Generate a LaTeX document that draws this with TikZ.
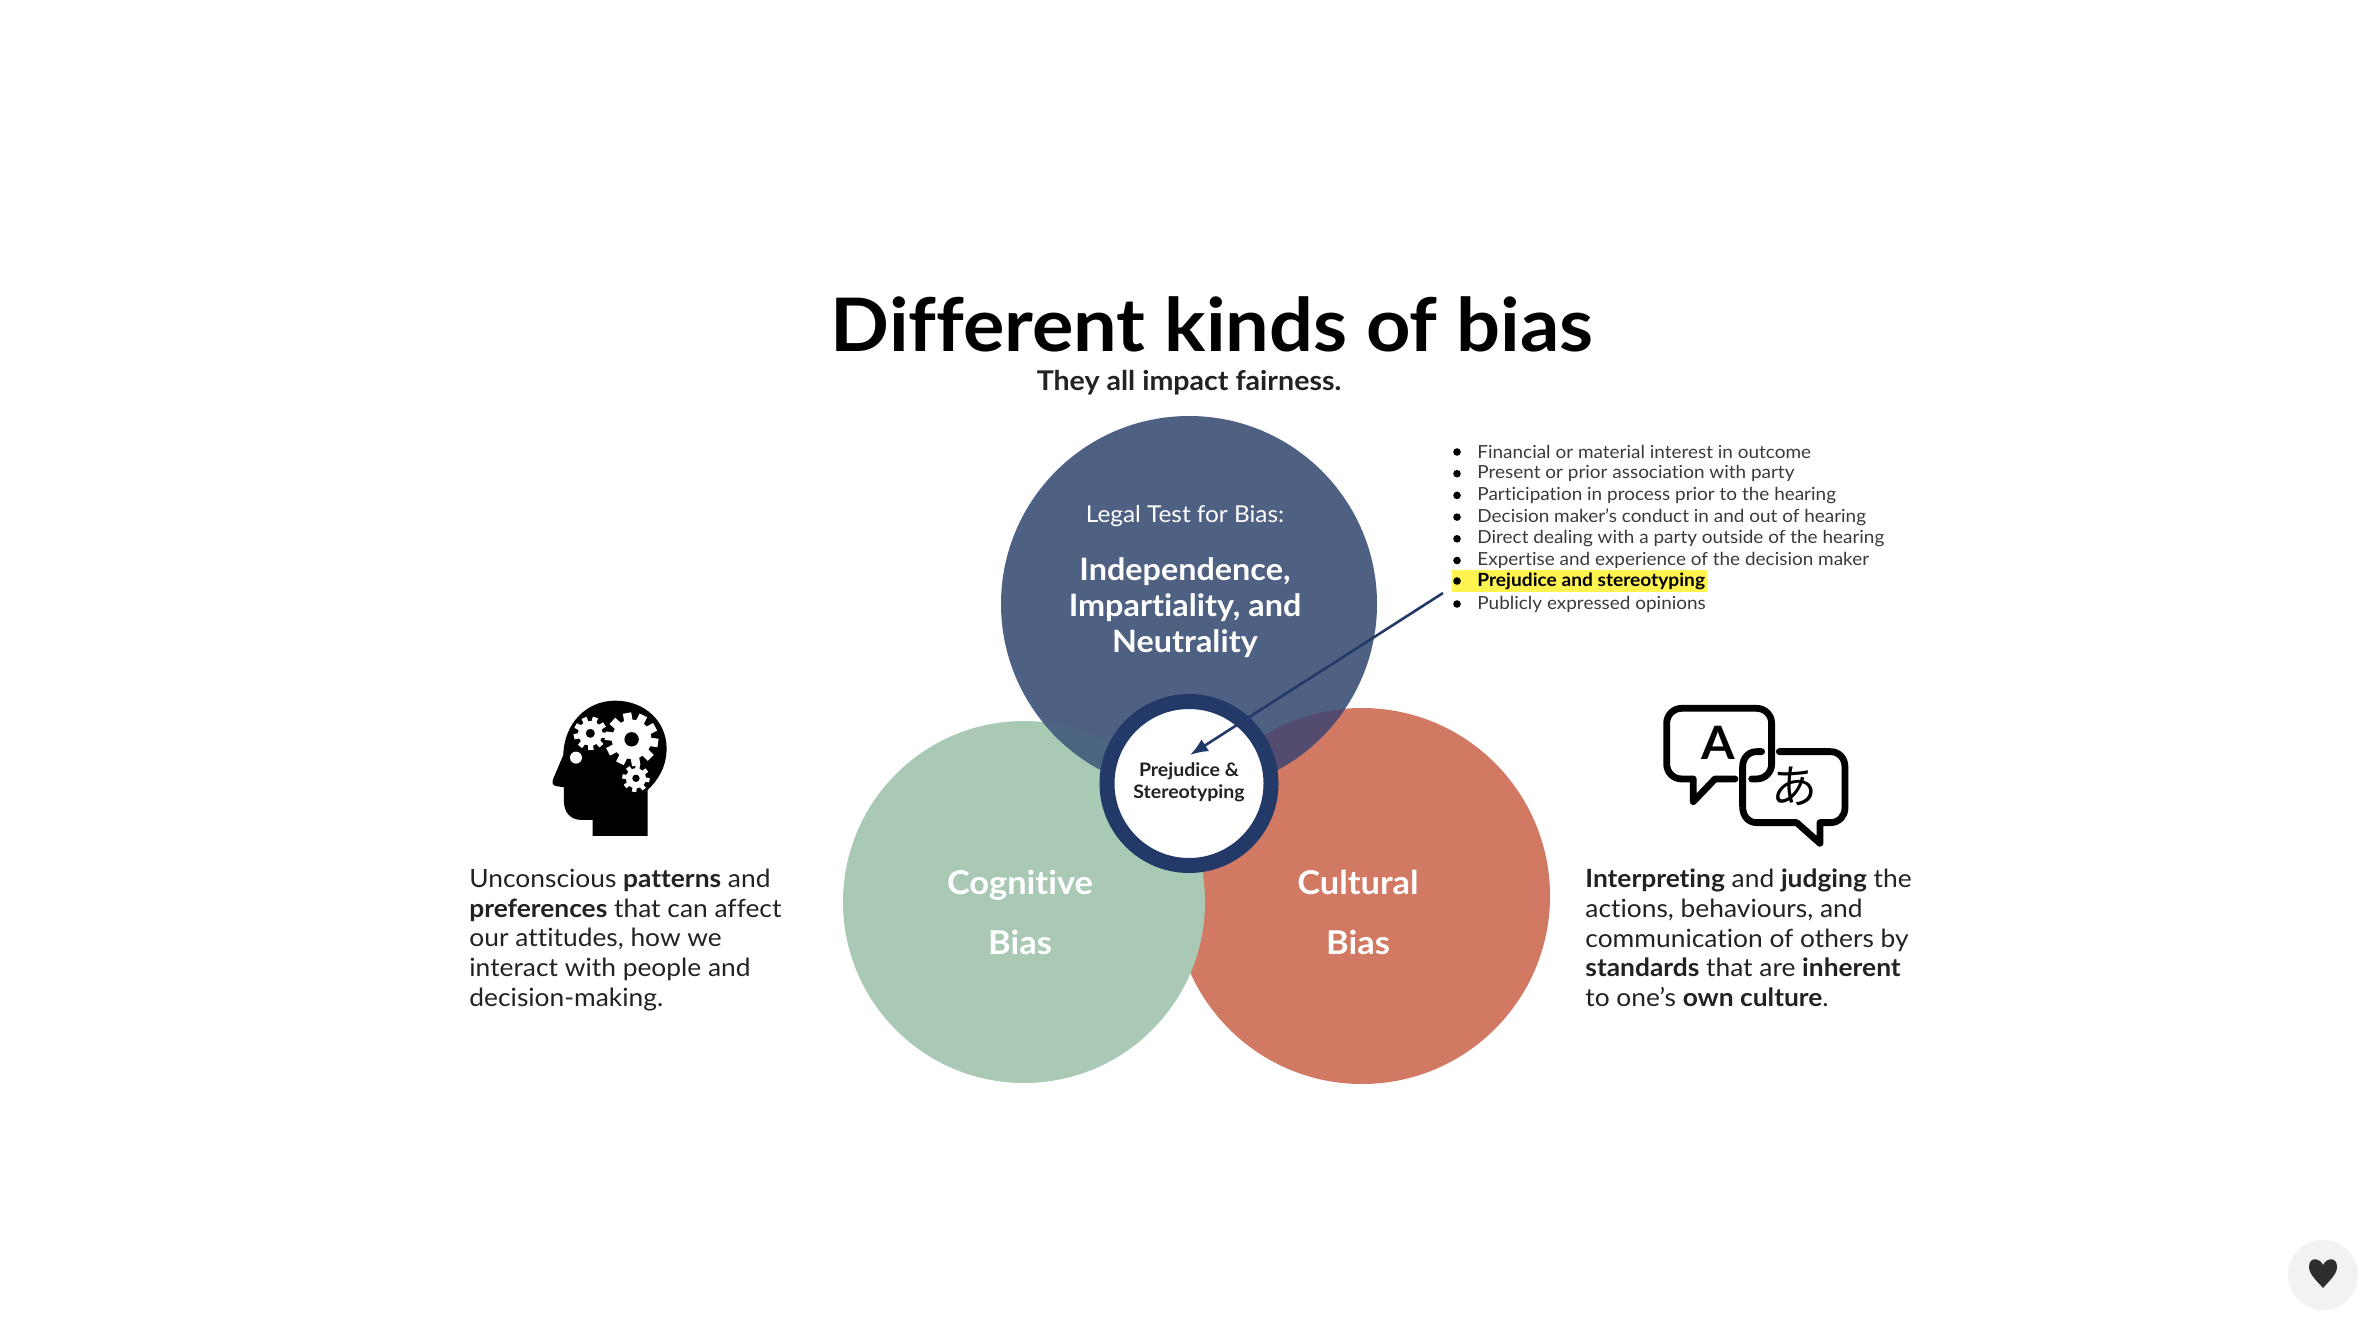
\documentclass[tikz,border=0pt]{standalone}
\usepackage{fontspec}
\setmainfont{Lato}[FakeStretch=1.05,Ligatures={NoCommon}]
\newfontfamily\cjkfont{Noto Sans CJK JP}
\definecolor{bluec}{HTML}{4F6183}
\definecolor{redc}{HTML}{D17963}
\definecolor{greenc}{HTML}{A9C9B5}
\definecolor{ringc}{HTML}{233A68}
\definecolor{overr}{HTML}{544C6E}
\definecolor{overg}{HTML}{4C6682}
\definecolor{hilite}{HTML}{FFF350}
\definecolor{bodyc}{HTML}{222222}
\definecolor{listc}{HTML}{3A3A3A}
\newcommand{\fs}[2]{\fontsize{#1pt}{#2pt}\selectfont}
\newcommand{\gearshape}[4]{%
  \foreach \a in {1,...,#4}{\draw[white,line width=#3*0.053pt] (#1,#2)++(\a*360/#4+8:0) -- ++(\a*360/#4+8:#3);}
  \fill[white] (#1,#2) circle[radius=#3*0.74];
  \fill[black] (#1,#2) circle[radius=#3*0.27];}
\tikzset{
  bigc/.style={circle,minimum size=#1,inner sep=0pt},
  whitetxt/.style={text=white,align=center,inner sep=0pt},
  bodytxt/.style={text=bodyc,align=left,anchor=west,inner sep=0pt,font=\fs{12.55}{14.85}},
  listitem/.style={text=listc,anchor=west,inner sep=0pt,font=\fs{9.02}{10.8}},
  bullet/.style={circle,fill=black,minimum size=3.8pt,inner sep=0pt},
  icontxt/.style={text=black,inner sep=0pt},
  bubble/.style={draw=black,line width=3.4pt,line cap=round,line join=round},
  arrowline/.style={draw=ringc,line width=1.3pt,-{Latex[length=9pt,width=7pt]}}
}
\usetikzlibrary{arrows.meta}
\begin{document}
\begin{tikzpicture}[x=0.5pt,y=-0.5pt]
\useasboundingbox (0,0) rectangle (2376,1322);
\fill[white] (0,0) rectangle (2376,1322);
% circles
\fill[redc] (1362,896) circle[radius=188];
\fill[greenc] (1024,902) circle[radius=181];
\fill[bluec] (1189,604) circle[radius=188];
\begin{scope}
  \clip (1189,604) circle[radius=188];
  \fill[overr] (1362,896) circle[radius=188];
  \fill[overg] (1024,902) circle[radius=181];
\end{scope}
% ring
\node[bigc=82pt,draw=ringc,line width=7.5pt,fill=white] (ring) at (1189,783.5) {};
% titles
\node[inner sep=0pt,text=black,font=\fs{36.9}{44}\bfseries] (title) at (1212,324) {Different kinds of bias};
\node[inner sep=0pt,text=bodyc,font=\fs{13.6}{16}\bfseries] (sub) at (1189,383) {They all impact fairness.};
% circle text
\node[whitetxt,font=\fs{11.6}{14}] (legal) at (1185,516) {Legal Test for Bias:};
\node[whitetxt,font=\fs{15.4}{18}\bfseries] (indep) at (1185,608) {Independence,\\Impartiality, and\\Neutrality};
\node[whitetxt,font=\fs{16.4}{30}\bfseries] (cog) at (1020,912) {Cognitive\\Bias};
\node[whitetxt,font=\fs{16.4}{30}\bfseries] (cul) at (1358,912) {Cultural\\Bias};
\node[inner sep=0pt,align=center,text=bodyc,font=\fs{9.3}{10.9}\bfseries] (prej) at (1189,782) {Prejudice \&\\Stereotyping};
% bodies
\node[bodytxt] (left) at (469,940) {Unconscious \textbf{patterns} and\\\textbf{preferences} that can affect\\our attitudes, how we\\interact with people and\\decision-making.};
\node[bodytxt] (right) at (1585,938) {\textbf{Interpreting} and \textbf{judging} the\\actions, behaviours, and\\communication of others by\\\textbf{standards} that are \textbf{inherent}\\to one's \textbf{own culture}.};
% list
\fill[hilite] (1452,570) rectangle (1707,592);
\foreach \n/\y/\t in {a/452/Financial or material interest in outcome,
  b/473.7/Present or prior association with party,
  c/495.4/Participation in process prior to the hearing,
  d/517.1/Decision maker's conduct in and out of hearing,
  e/538.8/Direct dealing with a party outside of the hearing,
  f/560.5/Expertise and experience of the decision maker,
  h/604/Publicly expressed opinions}{
  \node[bullet] (bul\n) at (1457,\y) {};
  \node[listitem] (it\n) at (1477,\y) {\t};
}
\node[bullet] (bulg) at (1457,581) {};
\node[listitem,text=black,font=\fs{9.12}{10.8}\bfseries] (itg) at (1477,581) {Prejudice and stereotyping};
% arrow
\coordinate (astart) at (1443,593);
\coordinate (aend) at (1190,755);
\draw[arrowline] (astart) -- (aend);
% head icon
\begin{scope}[shift={(520,680)},x=0.1666pt,y=-0.1666pt]
  \fill[black] (383,468) -- (218,468) -- (218,420) -- (185,420)
    .. controls (150,420) and (132,395) .. (132,365) -- (132,322) -- (106,318)
    .. controls (96,314) and (96,305) .. (100,296) -- (130,225)
    .. controls (132,130) and (200,62) .. (285,62)
    .. controls (375,62) and (440,125) .. (440,205)
    .. controls (440,260) and (415,300) .. (383,330) -- cycle;
  \gearshape{335}{178}{80}{10}
  \gearshape{211}{160}{50}{9}
  \gearshape{348}{295}{41}{8}
  \fill[white] (168,233) circle[radius=18];
\end{scope}
% speech icon
\begin{scope}[shift={(1640,690)},x=0.1666pt,y=-0.1666pt]
  \draw[bubble] (285,267) -- (225,267) -- (160,335) -- (160,267) -- (125,267)
    .. controls (100,267) and (80,247) .. (80,222) -- (80,100)
    .. controls (80,75) and (100,55) .. (125,55) -- (350,55)
    .. controls (375,55) and (395,75) .. (395,100) -- (395,222)
    .. controls (395,247) and (375,267) .. (350,267) -- (335,267);
  \draw[bubble] (365,185) -- (350,185)
    .. controls (325,185) and (308,205) .. (308,230) -- (308,350)
    .. controls (308,378) and (325,398) .. (350,398) -- (470,398) -- (540,460) -- (540,398) -- (572,398)
    .. controls (597,398) and (615,378) .. (615,355) -- (615,230)
    .. controls (615,205) and (597,185) .. (572,185) -- (418,185);
  \node[icontxt,font=\fs{23}{26}\bfseries] (glyphA) at (235,160) {A};
  \node[icontxt,font=\cjkfont\fs{23}{26}] (glyphB) at (463,290) {あ};
\end{scope}
% heart
\node[circle,fill=black!5,minimum size=35pt,inner sep=0pt] (heartbg) at (2323,1275) {};
\fill[black!82] (2323,1288) .. controls (2316,1280) and (2309,1274) .. (2309,1267)
  .. controls (2309,1256) and (2320,1258) .. (2323,1265)
  .. controls (2326,1258) and (2337,1256) .. (2337,1267)
  .. controls (2337,1274) and (2330,1280) .. (2323,1288) -- cycle;
\end{tikzpicture}
\end{document}
